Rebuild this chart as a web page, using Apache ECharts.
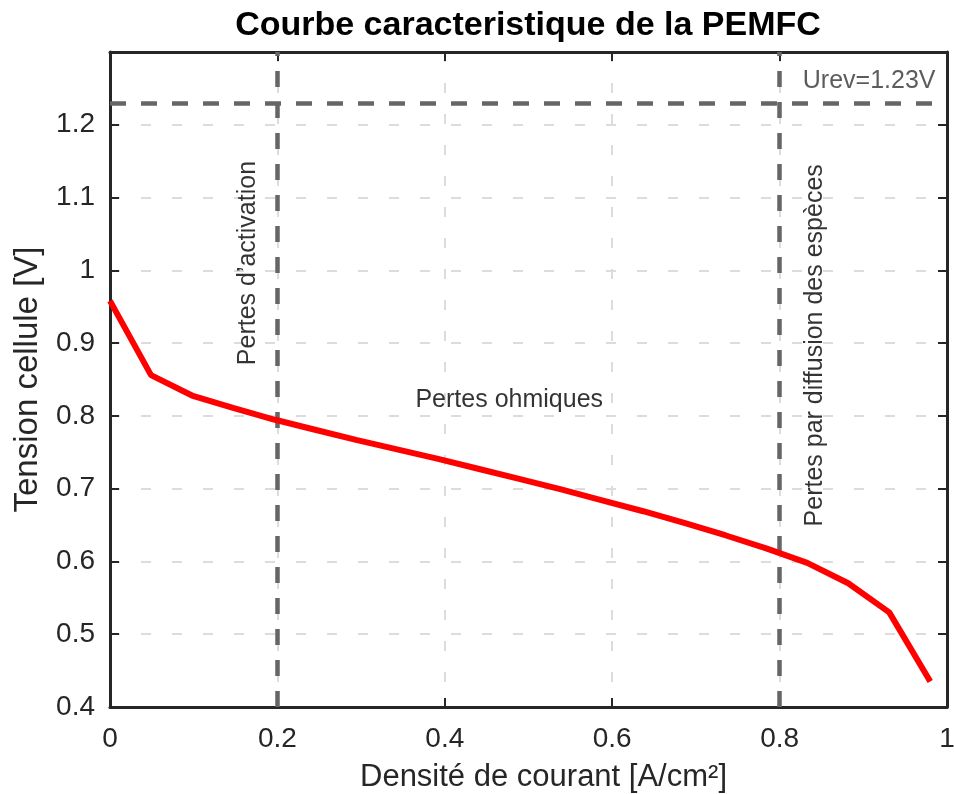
<!DOCTYPE html>
<html><head><meta charset="utf-8">
<script src="https://cdn.jsdelivr.net/npm/echarts@6/dist/echarts.min.js"></script>
<style>html,body{margin:0;padding:0;background:#fff}#c{width:954px;height:794px}</style>
</head><body><div id="c"></div>
<script>
const titleText = 'Courbe caracteristique de la PEMFC';
const xName = 'Densité de courant [A/cm²]';
const yName = 'Tension cellule [V]';
const currentDensity = [0, 0.049, 0.098, 0.147, 0.196, 0.245, 0.294, 0.343, 0.392, 0.441, 0.49, 0.539, 0.588, 0.637, 0.686, 0.735, 0.784, 0.833, 0.882, 0.931, 0.98];
const cellVoltage = [0.958, 0.856, 0.828, 0.811, 0.795, 0.781, 0.767, 0.754, 0.741, 0.727, 0.713, 0.699, 0.684, 0.669, 0.653, 0.636, 0.618, 0.598, 0.570, 0.530, 0.435];
const regionLimits = [0.2, 0.8];
const urev = 1.23;
const annotations = [
  {text: 'Pertes d\u2019activation', x: 0.165, y: 1.01, rotate: 90},
  {text: 'Pertes ohmiques', x: 0.477, y: 0.822, rotate: 0},
  {text: 'Pertes par diffusion des espèces', x: 0.843, y: 0.897, rotate: 90},
  {text: 'Urev=1.23V', x: 0.907, y: 1.26, rotate: 0}
];
const xMin = 0, xMax = 1, xStep = 0.2;
const yMin = 0.4, yMax = 1.3, yStep = 0.1;

const font = 'Liberation Sans, Arial, Helvetica, sans-serif';
const axisCol = '#262626';
const chart = echarts.init(document.getElementById('c'));
const baseX = {
  type: 'value', min: xMin, max: xMax, interval: xStep,
  axisLine: {show: true, onZero: false, lineStyle: {color: axisCol, width: 3}},
  axisTick: {show: true, inside: true, length: 9, lineStyle: {color: axisCol, width: 2}},
  splitLine: {show: false}
};
const baseY = {
  type: 'value', min: yMin, max: yMax, interval: yStep,
  axisLine: {show: true, onZero: false, lineStyle: {color: axisCol, width: 3}},
  axisTick: {show: true, inside: true, length: 9, lineStyle: {color: axisCol, width: 2}},
  splitLine: {show: false}
};
const yLabelFmt = v => (Math.abs(v - 1.3) < 1e-6 ? '' : String(Math.round(v * 10) / 10));
chart.setOption({
  animation: false,
  backgroundColor: '#fff',
  title: {text: titleText, left: 523, textAlign: 'center', top: 4,
    textStyle: {fontFamily: font, fontWeight: 'bold', fontSize: 34, color: '#000'}},
  grid: {left: 110, right: 7, top: 52, bottom: 87, show: false, containLabel: false, outerBoundsMode: 'none'},
  xAxis: [
    Object.assign({}, baseX, {
      position: 'bottom',
      name: xName, nameLocation: 'middle', nameGap: 55,
      nameTextStyle: {fontFamily: font, fontSize: 31, color: '#262626', padding: [0, 0, 0, 30]},
      axisLabel: {fontFamily: font, fontSize: 28, color: '#262626', margin: 18,
        formatter: v => String(Math.round(v * 10) / 10)},
      splitLine: {show: true, lineStyle: {color: '#dcdcdc', width: 2, type: [10, 21]}}
    }),
    Object.assign({}, baseX, {position: 'top', axisLabel: {show: false}})
  ],
  yAxis: [
    Object.assign({}, baseY, {
      position: 'left',
      name: yName, nameLocation: 'middle', nameGap: 66,
      nameTextStyle: {fontFamily: font, fontSize: 33, color: '#262626'},
      axisLabel: {fontFamily: font, fontSize: 28, color: '#262626', margin: 15, formatter: yLabelFmt},
      splitLine: {show: true, lineStyle: {color: '#dcdcdc', width: 2, type: [10, 21]}}
    }),
    Object.assign({}, baseY, {position: 'right', axisLabel: {show: false}})
  ],
  series: [
    {
      type: 'line', xAxisIndex: 0, yAxisIndex: 0,
      data: currentDensity.map((x, i) => [x, cellVoltage[i]]),
      showSymbol: false, symbol: 'none',
      lineStyle: {color: '#ff0000', width: 6},
      z: 5,
      markLine: {
        silent: true, symbol: 'none', label: {show: false},
        lineStyle: {color: '#666666', width: 4.5, type: [16, 15]},
        data: regionLimits.map(x => ({xAxis: x})).concat([{yAxis: urev}])
      }
    },
    {
      type: 'scatter', xAxisIndex: 0, yAxisIndex: 0,
      symbolSize: 0, silent: true, z: 6,
      data: annotations.map(a => ({
        value: [a.x, a.y],
        label: {show: true, position: 'inside', formatter: a.text, rotate: a.rotate,
          align: 'center', verticalAlign: 'middle', textBorderWidth: 0,
          fontFamily: font, fontSize: 25, color: a.text.startsWith('Urev') ? '#333' : '#000'}
      }))
    }
  ]
});
</script></body></html>
